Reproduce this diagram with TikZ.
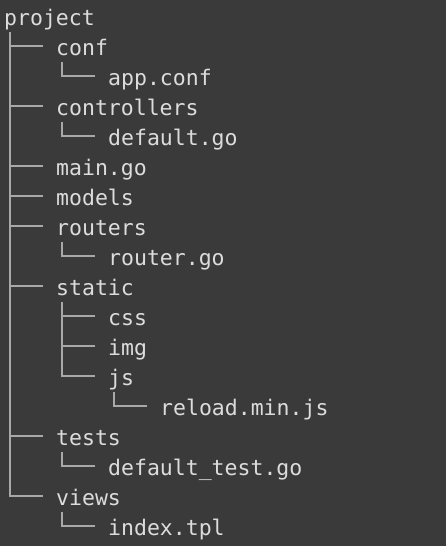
\documentclass[tikz,border=0pt]{standalone}
\usepackage{fontspec}
\setmonofont{DejaVu Sans Mono}
\definecolor{bgc}{HTML}{3A3A3A}
\definecolor{txt}{HTML}{DCDCDC}
\definecolor{lnc}{HTML}{A8A8A8}
\begin{document}
\begin{tikzpicture}[x=1pt,y=1pt,
  entry/.style={anchor=base west,inner sep=0pt,text height=25pt,text depth=7pt,
    text=txt,font=\fontsize{21.5pt}{30pt}\selectfont\ttfamily},
  tree/.style={draw=lnc,line width=1.1pt}]
\fill[bgc] (0,0) rectangle (446,-546);
\useasboundingbox (0,0) rectangle (446,-546);
% rows: baseline y = -(25 + 30 i); x = 4 + 52 * level
\node[entry] (project) at (4,-25) {project};
\node[entry] (conf) at (56,-55) {conf};
\node[entry] (appconf) at (108,-85) {app.conf};
\node[entry] (controllers) at (56,-115) {controllers};
\node[entry] (defaultgo) at (108,-145) {default.go};
\node[entry] (maingo) at (56,-175) {main.go};
\node[entry] (models) at (56,-205) {models};
\node[entry] (routers) at (56,-235) {routers};
\node[entry] (routergo) at (108,-265) {router.go};
\node[entry] (static) at (56,-295) {static};
\node[entry] (css) at (108,-325) {css};
\node[entry] (img) at (108,-355) {img};
\node[entry] (js) at (108,-385) {js};
\node[entry] (reload) at (160,-415) {reload.min.js};
\node[entry] (tests) at (56,-445) {tests};
\node[entry] (deftest) at (108,-475) {default\_test.go};
\node[entry] (views) at (56,-505) {views};
\node[entry] (index) at (108,-535) {index.tpl};
% connectors
\foreach \p/\c in {project/conf,project/controllers,project/maingo,project/models,
  project/routers,project/static,project/tests,project/views,
  conf/appconf,controllers/defaultgo,routers/routergo,
  static/css,static/img,static/js,js/reload,tests/deftest,views/index}
  \draw[tree] ([xshift=6pt]\p.south west) |- ([xshift=-13pt]\c.west);
\end{tikzpicture}
\end{document}
